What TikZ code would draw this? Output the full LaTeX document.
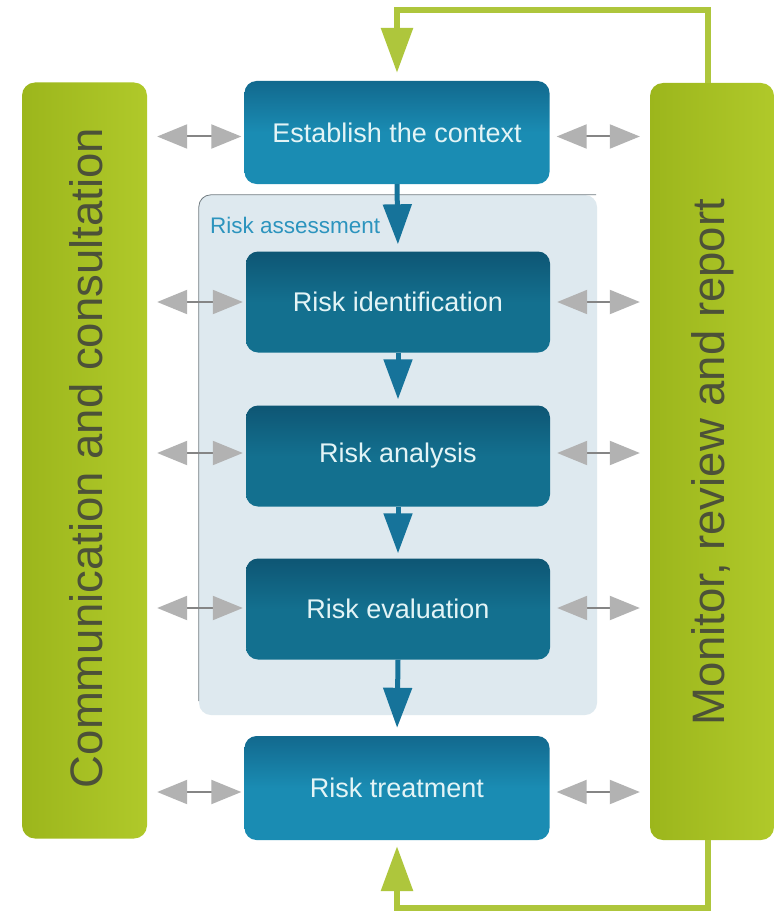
\documentclass[tikz,border=0pt]{standalone}
\usepackage{fontspec}
\setmainfont{Liberation Sans}
\usetikzlibrary{arrows.meta,shadings,calc}
\definecolor{barL}{HTML}{9CB61C}
\definecolor{barR}{HTML}{B0C92A}
\definecolor{greenln}{HTML}{AEC63C}
\definecolor{outerTop}{HTML}{12698E}
\definecolor{outerBot}{HTML}{1A8CB3}
\definecolor{innerTop}{HTML}{0E5674}
\definecolor{innerBot}{HTML}{13708F}
\definecolor{panelfill}{HTML}{DEE9EF}
\definecolor{panelline}{HTML}{6F7A80}
\definecolor{blueArr}{HTML}{16739A}
\definecolor{labelblue}{HTML}{2C94BE}
\definecolor{boxtext}{HTML}{E3F4F6}
\definecolor{bartext}{HTML}{4C5138}
\definecolor{grayhead}{HTML}{B2B2B2}
\definecolor{grayshaft}{HTML}{858585}
\tikzset{
  greenbar/.style={rounded corners=13pt, left color=barL, right color=barR, draw=none,
    minimum width=125pt, minimum height=756pt, inner sep=0pt},
  bartxt/.style={text=bartext, font=\fontsize{45.5}{54}\selectfont},
  outerbox/.style={rounded corners=12pt, top color=outerTop, bottom color=outerBot,
    middle color=outerBot, minimum width=305pt, minimum height=103pt, inner sep=0pt,
    text=boxtext, font=\fontsize{27}{30}\selectfont},
  innerbox/.style={rounded corners=12pt, top color=innerTop, bottom color=innerBot,
    middle color=innerBot, minimum width=304pt, minimum height=101pt, inner sep=0pt,
    text=boxtext, font=\fontsize{27}{30}\selectfont},
  panelbox/.style={rounded corners=12pt, fill=panelfill, draw=none,
    minimum width=398pt, minimum height=520pt, inner sep=0pt},
  bluearrow/.style={draw=blueArr, line width=5pt,
    -{Triangle[length=40pt,width=28pt]}},
  grayarrow/.style={draw=grayshaft, line width=2pt,
    {Triangle[length=30pt,width=24pt,color=grayhead]}-{Triangle[length=30pt,width=24pt,color=grayhead]}},
  greenarrow/.style={draw=greenln, line width=6pt,
    -{Triangle[length=45pt,width=31pt]}},
}
\begin{document}
\begin{tikzpicture}[x=1pt,y=-1pt]
\useasboundingbox[fill=white] (0,0) rectangle (775,915);

% side bars
\node[greenbar] (lbar) at (84.5,460.5) {};
\node[bartxt, rotate=90] (ltext) at (86,458) {Communication and consultation};
\node[greenbar, minimum width=124pt, minimum height=757pt] (rbar) at (712,461.5) {};
\node[bartxt, rotate=90] (rtext) at (713,462) {Monitor, review and report};

% risk assessment panel
\node[panelbox] (panel) at (398,455) {};
\draw[panelline, line width=0.8pt, rounded corners=12pt]
  ([yshift=14pt]panel.south west) |- ([xshift=-1pt]panel.north east);
\node[anchor=west, text=labelblue, inner sep=0pt,
  font=\fontsize{22.5}{24}\selectfont] (ralabel) at (210,225) {Risk assessment};

% process boxes
\node[outerbox] (ctx) at (397,132.5) {Establish the context};
\node[innerbox] (ident) at (398,302) {Risk identification};
\node[innerbox] (anal) at (398,456) {Risk analysis};
\node[innerbox] (evalb) at (398,609) {Risk evaluation};
\node[outerbox, minimum height=104pt] (treat) at (397,788) {Risk treatment};

% blue flow arrows
\draw[bluearrow, shorten >=7pt] (ctx.south) -- (ident.north);
\draw[bluearrow, shorten >=6pt] (ident.south) -- (anal.north);
\draw[bluearrow, shorten >=5pt] (anal.south) -- (evalb.north);
\draw[bluearrow, shorten >=8pt] (evalb.south) -- (treat.north);

% gray double arrows
\foreach \b/\dy in {ctx/4, ident/0, anal/-3, evalb/-1, treat/4} {
  \draw[grayarrow, shorten <=10pt, shorten >=3pt]
    ($(lbar.east |- \b.west)+(0,\dy)$) -- ($(\b.west)+(0,\dy)$);
  \draw[grayarrow, shorten <=7pt, shorten >=10pt]
    ($(\b.east)+(0,\dy)$) -- ($(rbar.west |- \b.east)+(0,\dy)$);
}

% green feedback loops
\coordinate (topc) at (397,10);
\coordinate (botc) at (397,908);
\draw[greenarrow, shorten >=8pt] ([xshift=-4pt]rbar.north) |- (topc) -- (ctx.north);
\draw[greenarrow, shorten >=6pt] ([xshift=-4pt]rbar.south) |- (botc) -- (treat.south);
\end{tikzpicture}
\end{document}
